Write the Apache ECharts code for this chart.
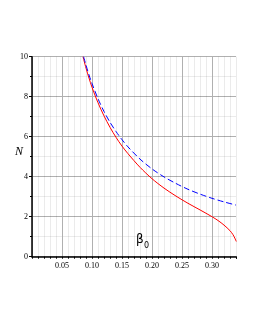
<!DOCTYPE html>
<html><head><meta charset="utf-8">
<script src="https://cdn.jsdelivr.net/npm/echarts@6/dist/echarts.min.js"></script>
<style>html,body{margin:0;padding:0;background:#fff}#c{width:255px;height:330px}</style>
</head><body><div id="c"></div>
<script>
const redX = [0.085,0.09,0.095,0.10,0.11,0.12,0.13,0.14,0.15,0.16,0.18,0.20,0.22,0.24,0.26,0.28,0.30,0.31,0.32,0.33,0.335,0.338,0.3405];
const redN = [10.0,9.43,8.93,8.47,7.70,7.04,6.47,5.97,5.53,5.15,4.47,3.90,3.43,3.03,2.67,2.34,2.00,1.81,1.58,1.30,1.10,0.93,0.76];
const blueX = [0.086,0.09,0.095,0.10,0.11,0.12,0.13,0.14,0.15,0.16,0.18,0.20,0.22,0.24,0.26,0.28,0.30,0.32,0.34];
const blueN = [10.0,9.58,9.09,8.66,7.90,7.26,6.72,6.26,5.85,5.49,4.88,4.39,3.99,3.66,3.37,3.13,2.92,2.74,2.58];
const xMin = 0, xMax = 0.34, xStep = 0.05;
const yMin = 0, yMax = 10, yStep = 2;
const yName = 'N';
const xNameMain = 'β', xNameSub = '0';

const font = 'Liberation Serif';
const chart = echarts.init(document.getElementById('c'), null, {renderer:'canvas'});
chart.setOption({
  animation:false,
  grid:{left:32,right:19,top:56.7,bottom:73.3,containLabel:false},
  xAxis:{type:'value',min:xMin,max:xMax,interval:xStep,
    axisLine:{show:true,onZero:false,lineStyle:{color:'#000',width:1.5}},
    axisTick:{show:true,inside:false,length:2,lineStyle:{color:'#000'}},
    minorTick:{show:true,splitNumber:5,length:2,lineStyle:{color:'#000'}},
    splitLine:{show:true,showMaxLine:false,lineStyle:{color:'#b0b0b0',width:1,type:'solid'}},
    minorSplitLine:{show:true,lineStyle:{color:'rgba(0,0,0,0.08)',width:1,type:'solid'}},
    axisLabel:{fontFamily:font,fontSize:8,color:'#000',margin:5,showMaxLabel:false,
      formatter:v=>{const r=Math.round(v/xStep);return (r>0 && Math.abs(v-r*xStep)<1e-9)?v.toFixed(2):'';}}
  },
  yAxis:{type:'value',min:yMin,max:yMax,interval:yStep,
    axisLine:{show:true,lineStyle:{color:'#000',width:1.5}},
    axisTick:{show:true,inside:false,length:3,lineStyle:{color:'#000'}},
    minorTick:{show:true,splitNumber:2,length:2,lineStyle:{color:'#000'}},
    splitLine:{show:true,lineStyle:{color:'#b0b0b0',width:1,type:'solid'}},
    minorSplitLine:{show:true,lineStyle:{color:'rgba(0,0,0,0.08)',width:1,type:'solid'}},
    axisLabel:{fontFamily:font,fontSize:8,color:'#000',margin:4}
  },
  graphic:[
    {type:'text',left:15,top:146,style:{text:yName,fontFamily:font,fontStyle:'italic',fontSize:12,fill:'#000'}},
    {type:'text',left:136,top:234,style:{text:xNameMain,fontFamily:'DejaVu Sans',fontSize:12,fill:'#000'}},
    {type:'text',left:144,top:242,style:{text:xNameSub,fontFamily:'DejaVu Sans',fontSize:8,fill:'#000'}}
  ],
  series:[
    {type:'line',data:redX.map((x,i)=>[x,redN[i]]),smooth:0.3,showSymbol:false,clip:true,
      lineStyle:{color:'#ff0000',width:1}},
    {type:'line',data:blueX.map((x,i)=>[x,blueN[i]]),smooth:0.3,showSymbol:false,clip:true,
      lineStyle:{color:'#0000ff',width:1,type:[6,3]}}
  ]
});
</script></body></html>
